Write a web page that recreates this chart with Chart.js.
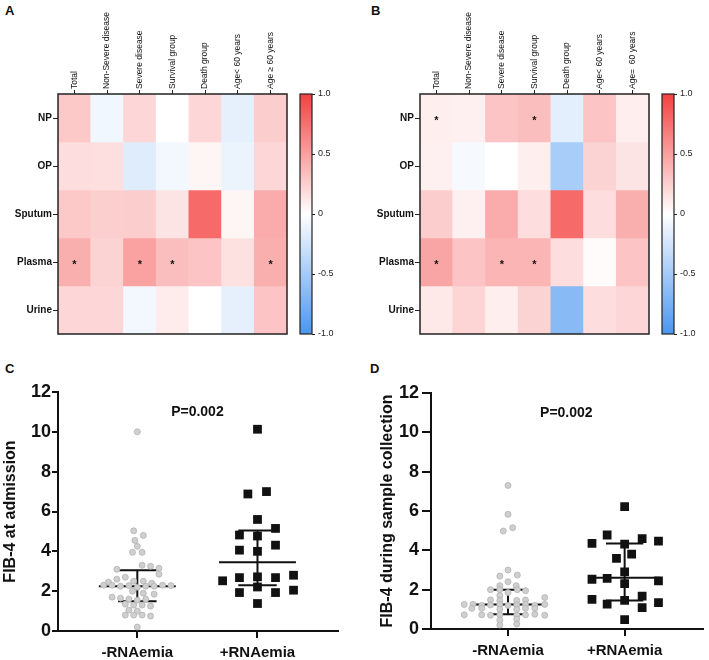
<!DOCTYPE html>
<html>
<head>
<meta charset="utf-8">
<script src="https://cdn.jsdelivr.net/npm/chart.js@4.4.1/dist/chart.umd.min.js"></script>
<style>
  body { margin: 0; background: #fff; }
  #wrap { position: relative; width: 709px; height: 660px; font-family: 'Liberation Sans', Arial, sans-serif; }
  canvas { position: absolute; }
  .tag { position: absolute; font-weight: bold; font-size: 13px; line-height: 13px; color: #111; }
</style>
</head>
<body>
<div id="wrap">
  <div class="tag" style="left:5px;top:4px">A</div>
  <div class="tag" style="left:371px;top:4px">B</div>
  <div class="tag" style="left:5px;top:362px">C</div>
  <div class="tag" style="left:370px;top:362px">D</div>
  <canvas id="heatA" width="300" height="345" style="left:0;top:0"></canvas>
  <canvas id="barA" width="60" height="260" style="left:290px;top:84px"></canvas>
  <canvas id="heatB" width="305" height="345" style="left:355px;top:0"></canvas>
  <canvas id="barB" width="57" height="260" style="left:652px;top:84px"></canvas>
  <canvas id="fibC" width="350" height="300" style="left:0;top:360px"></canvas>
  <canvas id="fibD" width="354" height="300" style="left:355px;top:360px"></canvas>
</div>
<script>
const rows = ["NP", "OP", "Sputum", "Plasma", "Urine"];
const columnsA = ["Total", "Non-Severe disease", "Severe disease", "Survival group", "Death group", "Age< 60 years", "Age \u2265 60 years"];
const columnsB = ["Total", "Non-Severe disease", "Severe disease", "Survival group", "Death group", "Age< 60 years", "Age=  60 years"];

const corrA = [
    [0.29, -0.08, 0.21, 0.00, 0.21, -0.14, 0.26],
    [0.18, 0.17, -0.18, -0.07, 0.05, -0.11, 0.21],
    [0.29, 0.25, 0.26, 0.14, 0.78, 0.05, 0.44],
    [0.42, 0.23, 0.49, 0.34, 0.31, 0.16, 0.42],
    [0.21, 0.21, -0.07, 0.10, 0.00, -0.14, 0.31],
];
const corrB = [
    [0.09, 0.08, 0.31, 0.34, -0.15, 0.31, 0.09],
    [0.08, -0.05, 0.00, 0.09, -0.48, 0.23, 0.14],
    [0.26, 0.08, 0.44, 0.18, 0.78, 0.18, 0.42],
    [0.47, 0.31, 0.39, 0.39, 0.18, 0.02, 0.31],
    [0.12, 0.22, 0.09, 0.23, -0.66, 0.18, 0.21],
];
// [row, column] of the cells marked with *
const starsA = [[3, 0], [3, 2], [3, 3], [3, 6]];
const starsB = [[0, 0], [0, 3], [3, 0], [3, 2], [3, 3]];
const colorbarTicks = [-1, -0.5, 0, 0.5, 1];

// FIB-4 scatter data
const groupLabels = ["-RNAemia", "+RNAemia"];

const negC = [10.0, 5.03, 4.8, 4.55, 4.25, 3.95, 3.95, 3.3, 3.25, 3.15, 3.1, 2.85, 2.7, 2.6, 2.5, 2.5, 2.45, 2.4, 2.3, 2.3, 2.25, 2.28, 2.2, 2.25, 2.25, 2.3, 2.28, 2.0, 1.9, 1.85, 1.7, 1.65, 1.6, 1.55, 1.6, 1.35, 1.3, 1.3, 1.25, 1.05, 1.0, 0.8, 0.8, 0.8, 0.75, 0.2];
const negCJit = [0, -0.03, 0.05, -0.02, 0, -0.04, 0.04, 0.04, 0.11, 0.18, -0.17, 0.18, -0.1, -0.17, -0.03, 0.05, -0.24, 0.12, -0.28, -0.21, -0.14, -0.07, 0, 0.07, 0.14, 0.21, 0.28, -0.04, 0.05, 0.14, -0.21, -0.14, -0.07, 0, 0.07, -0.1, -0.03, 0.04, 0.11, -0.07, 0, -0.1, -0.03, 0.04, 0.11, 0];
const posC = [10.13, 7.0, 6.88, 5.6, 5.15, 4.82, 4.77, 4.31, 4.06, 4.0, 2.8, 2.72, 2.68, 2.68, 2.52, 2.21, 2.05, 1.93, 1.93, 1.38];
const posCJit = [0, 0.075, -0.08, 0, 0.15, -0.15, 0, 0.15, -0.15, 0, 0.3, 0, -0.15, 0.15, -0.29, 0, 0.3, -0.15, 0.15, 0];
const medC = [2.25, 3.45];
const q1C = [1.5, 2.3];
const q3C = [3.05, 5.05];

const negD = [7.3, 5.83, 5.15, 4.98, 3.0, 2.74, 2.69, 2.4, 2.2, 2.2, 2.0, 2.0, 2.0, 1.95, 1.85, 1.7, 1.6, 1.48, 1.45, 1.45, 1.48, 1.25, 1.25, 1.2, 1.22, 1.25, 1.2, 1.22, 1.25, 1.2, 1.25, 1.05, 1.05, 1.0, 1.0, 1.05, 1.05, 0.72, 0.72, 0.7, 0.72, 0.7, 0.72, 0.75, 0.7, 0.45, 0.5, 0.2, 0.25];
const negDJit = [0, 0, 0.04, -0.04, 0, 0.08, -0.07, 0, -0.07, 0.07, -0.15, -0.07, 0.08, 0.15, 0, -0.07, 0.315, -0.15, -0.07, 0.075, 0.15, -0.375, -0.3, -0.225, -0.15, -0.07, 0, 0.075, 0.15, 0.23, 0.315, -0.31, -0.225, -0.07, 0.075, 0.15, 0.23, -0.375, -0.225, -0.15, -0.07, 0.075, 0.15, 0.23, 0.315, -0.07, 0.075, -0.07, 0.075];
const posD = [6.22, 4.78, 4.6, 4.47, 4.35, 4.32, 3.81, 3.59, 2.91, 2.57, 2.53, 2.45, 2.31, 1.67, 1.51, 1.46, 1.34, 1.26, 1.09, 0.48];
const posDJit = [0, -0.15, 0.15, 0.29, -0.28, 0, 0.06, -0.07, 0, -0.15, -0.28, 0.29, 0, 0.15, -0.28, 0, 0.29, -0.15, 0.15, 0];
const medD = [1.25, 2.6];
const q1D = [0.75, 1.45];
const q3D = [2.0, 4.35];

Chart.defaults.font.family = "'Liberation Sans', Arial, sans-serif";
Chart.defaults.color = '#111';

const FONT = "'Liberation Sans', Arial, sans-serif";

function cellColor(v) {
    const end = v >= 0 ? [244, 64, 64] : [74, 150, 240];
    const t = Math.min(Math.abs(v), 1);
    const c = end.map(e => Math.round(255 + (e - 255) * t));
    return 'rgb(' + c[0] + ',' + c[1] + ',' + c[2] + ')';
}

// box around the plot area
const framePlugin = {
    id: 'frame',
    afterDatasetsDraw(chart, args, opts) {
        const a = chart.chartArea, ctx = chart.ctx;
        ctx.save();
        ctx.strokeStyle = '#222';
        ctx.lineWidth = opts.width || 1.5;
        ctx.strokeRect(a.left, a.top, a.right - a.left, a.bottom - a.top);
        ctx.restore();
    }
};

// significance stars on the heatmap cells
const starPlugin = {
    id: 'stars',
    afterDatasetsDraw(chart, args, opts) {
        const xs = chart.scales.x, ys = chart.scales.y, ctx = chart.ctx;
        ctx.save();
        ctx.fillStyle = '#111';
        ctx.font = 'bold 11px ' + FONT;
        ctx.textAlign = 'center';
        ctx.textBaseline = 'middle';
        (opts.cells || []).forEach(([r, c]) => {
            ctx.fillText('*', xs.getPixelForValue(c), ys.getPixelForValue(r + 0.5) + 3);
        });
        ctx.restore();
    }
};

// P value text placed in data coordinates
const pLabelPlugin = {
    id: 'pLabel',
    afterDatasetsDraw(chart, args, opts) {
        if (!opts.text) return;
        const ctx = chart.ctx;
        ctx.save();
        ctx.fillStyle = '#111';
        ctx.font = 'bold 14px ' + FONT;
        ctx.textAlign = 'center';
        ctx.textBaseline = 'middle';
        ctx.fillText(opts.text, chart.scales.x.getPixelForValue(opts.x), chart.scales.y.getPixelForValue(opts.y));
        ctx.restore();
    }
};

function heatmap(id, columns, corr, stars, yWidth, padRight) {
    return new Chart(document.getElementById(id), {
        type: 'bar',
        data: {
            labels: columns,
            datasets: rows.map((name, r) => ({
                label: name,
                data: columns.map(() => 1),
                backgroundColor: corr[r].map(cellColor),
                borderWidth: 0,
                barPercentage: 1,
                categoryPercentage: 1,
            }))
        },
        options: {
            responsive: false,
            animation: false,
            devicePixelRatio: 1,
            layout: { padding: { left: 0, top: 0, right: padRight, bottom: 11 } },
            plugins: {
                legend: { display: false },
                tooltip: { enabled: false },
                stars: { cells: stars },
                frame: { width: 1.5 },
            },
            scales: {
                x: {
                    position: 'top',
                    stacked: true,
                    offset: true,
                    grid: { offset: false, drawOnChartArea: false, tickLength: 4, color: '#222' },
                    border: { display: false },
                    ticks: { minRotation: 90, maxRotation: 90, autoSkip: false, padding: 1, labelOffset: 10, font: { size: 8.5 }, color: '#111' },
                    afterFit: s => { s.height = 94; }
                },
                y: {
                    stacked: true,
                    reverse: true,
                    min: 0,
                    max: rows.length,
                    grid: { drawOnChartArea: false, tickLength: 5, color: '#222' },
                    border: { display: false },
                    afterBuildTicks: s => { s.ticks = rows.map((_, i) => ({ value: i + 0.5 })); },
                    ticks: { padding: 1, font: { size: 10, weight: 'bold' }, color: '#111', callback: v => rows[Math.floor(v)] },
                    afterFit: s => { s.width = yWidth; }
                }
            }
        },
        plugins: [framePlugin, starPlugin]
    });
}

function colorbar(id, yWidth) {
    return new Chart(document.getElementById(id), {
        type: 'bar',
        data: {
            labels: [''],
            datasets: [{
                data: [[colorbarTicks[0], colorbarTicks[colorbarTicks.length - 1]]],
                backgroundColor: c => {
                    const a = c.chart.chartArea;
                    if (!a) return null;
                    const g = c.chart.ctx.createLinearGradient(0, a.top, 0, a.bottom);
                    g.addColorStop(0, cellColor(1));
                    g.addColorStop(0.5, '#ffffff');
                    g.addColorStop(1, cellColor(-1));
                    return g;
                },
                borderWidth: 0,
                barPercentage: 1,
                categoryPercentage: 1,
            }]
        },
        options: {
            responsive: false,
            animation: false,
            devicePixelRatio: 1,
            layout: { padding: { left: 10, top: 10, right: 0, bottom: 10 } },
            plugins: { legend: { display: false }, tooltip: { enabled: false }, frame: { width: 1.2 } },
            scales: {
                x: { display: false },
                y: {
                    position: 'right',
                    min: -1,
                    max: 1,
                    grid: { drawOnChartArea: false, tickLength: 3, color: '#222' },
                    border: { display: false },
                    afterBuildTicks: s => { s.ticks = colorbarTicks.map(v => ({ value: v })); },
                    ticks: { padding: 3, font: { size: 9 }, color: '#222', callback: v => v === 0 ? '0' : v.toFixed(1) },
                    afterFit: s => { s.width = yWidth; }
                }
            }
        },
        plugins: [framePlugin]
    });
}

function seg(x0, x1, y0, y1) {
    return {
        type: 'line',
        data: [{ x: x0, y: y0 }, { x: x1, y: y1 }],
        borderColor: '#111',
        borderWidth: 2,
        pointRadius: 0,
        showLine: true,
        fill: false,
    };
}

function fibChart(id, title, neg, negJit, pos, posJit, med, q1, q3, medHalf, yWidth, pad, xHeight, yTick, yPad) {
    const capHalf = 0.16;
    const lines = [];
    med.forEach((m, g) => {
        const x = g + 1;
        lines.push(seg(x - medHalf, x + medHalf, m, m));
        lines.push(seg(x - capHalf, x + capHalf, q1[g], q1[g]));
        lines.push(seg(x - capHalf, x + capHalf, q3[g], q3[g]));
        lines.push(seg(x, x, q1[g], q3[g]));
    });
    return new Chart(document.getElementById(id), {
        type: 'scatter',
        data: {
            datasets: [
                {
                    data: neg.map((v, i) => ({ x: 1 + negJit[i], y: v })),
                    pointRadius: 3,
                    backgroundColor: '#cfcfcf',
                    borderColor: '#b3b3b3',
                    borderWidth: 0.8,
                },
                {
                    data: pos.map((v, i) => ({ x: 2 + posJit[i], y: v })),
                    pointStyle: 'rect',
                    pointRadius: 6.2,
                    backgroundColor: '#111',
                    borderWidth: 0,
                },
                ...lines
            ]
        },
        options: {
            responsive: false,
            animation: false,
            devicePixelRatio: 1,
            layout: { padding: pad },
            plugins: {
                legend: { display: false },
                tooltip: { enabled: false },
                pLabel: { text: 'P=0.002', x: 1.5, y: 11 },
            },
            scales: {
                x: {
                    type: 'linear',
                    min: 0.34,
                    max: 2.67,
                    afterBuildTicks: s => { s.ticks = groupLabels.map((_, i) => ({ value: i + 1 })); },
                    ticks: { callback: v => groupLabels[v - 1], font: { size: 15, weight: 'bold' }, color: '#111', padding: 6 },
                    grid: { drawOnChartArea: false, tickLength: 7, color: '#111', lineWidth: 2 },
                    border: { color: '#111', width: 2 },
                    afterFit: s => { s.height = xHeight; }
                },
                y: {
                    min: 0,
                    max: 12,
                    ticks: { stepSize: 2, font: { size: 18, weight: 'bold' }, color: '#111', padding: yPad },
                    grid: { drawOnChartArea: false, tickLength: yTick, color: '#111', lineWidth: 2 },
                    border: { color: '#111', width: 2 },
                    title: { display: true, text: title, font: { size: 16, weight: 'bold' }, color: '#111', padding: { top: 1, bottom: 0 } },
                    afterFit: s => { s.width = yWidth; }
                }
            }
        },
        plugins: [pLabelPlugin]
    });
}

heatmap('heatA', columnsA, corrA, starsA, 58, 13);
colorbar('barA', 38);
heatmap('heatB', columnsB, corrB, starsB, 65, 11);
colorbar('barB', 35);
fibChart('fibC', 'FIB-4 at admission', negC, negCJit, posC, posCJit, medC, q1C, q3C, 0.32, 58, { left: 0, top: 32, right: 12, bottom: 0 }, 29, 6, 1);
fibChart('fibD', 'FIB-4 during sample collection', negD, negDJit, posD, posDJit, medD, q1D, q3D, 0.3, 54, { left: 22, top: 33, right: 1, bottom: 0 }, 31, 9, 3);
</script>
</body>
</html>
